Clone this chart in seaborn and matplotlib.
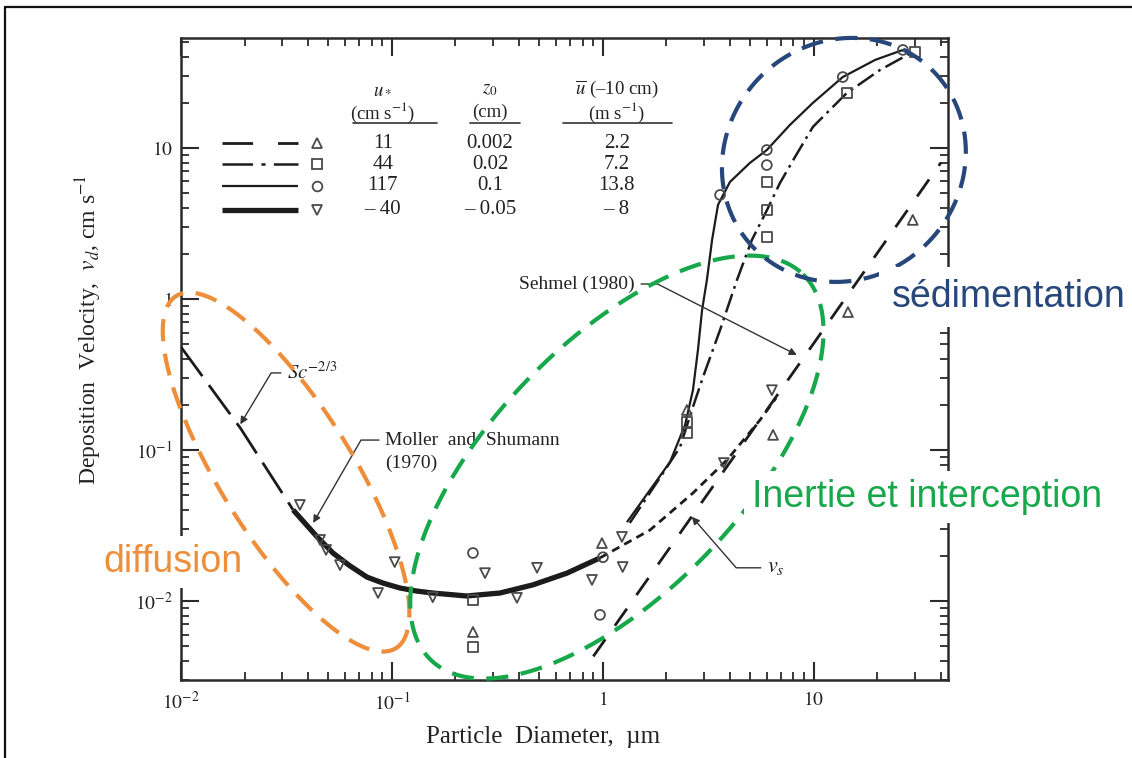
import numpy as np
import matplotlib
matplotlib.use("Agg")
import matplotlib.pyplot as plt
import seaborn as sns
from matplotlib.lines import Line2D
from matplotlib.ticker import LogLocator, FixedLocator, FuncFormatter, NullFormatter

# ---------------------------------------------------------------- data
# Sc^-2/3 diffusion branch (long dashes)
sc_d = [0.010, 0.0191, 0.034]
sc_v = [0.481, 0.140, 0.0401]

# Moller and Shumann (1970), thick solid curve
ms_d = [0.034, 0.0442, 0.0525, 0.0632, 0.0762, 0.0906, 0.109, 0.131, 0.156, 0.226,
        0.325, 0.466, 0.675, 0.968]
ms_v = [0.0401, 0.0266, 0.0208, 0.0171, 0.0144, 0.01315, 0.0122, 0.01164, 0.0113,
        0.0108, 0.0113, 0.0128, 0.0153, 0.0193]

# its short-dashed continuation above 1 um
ms_ext_d = [0.968, 1.67, 2.67, 3.87, 5.55, 6.61]
ms_ext_v = [0.0193, 0.0295, 0.0519, 0.0859, 0.158, 0.221]

# Sehmel (1980), u* = 117 cm/s (thin solid)
s117_d = [1.30, 1.67, 2.08, 2.45, 2.67, 2.82, 2.95, 3.11, 3.29, 3.51, 4.00, 4.97,
          5.98, 7.69, 9.89, 13.7, 19.5, 26.4]
s117_v = [0.0333, 0.0543, 0.0834, 0.1466, 0.249, 0.459, 0.845, 1.34, 2.46, 4.20,
          5.96, 7.96, 9.70, 14.2, 19.9, 29.5, 38.3, 44.6]

# Sehmel (1980), u* = 44 cm/s (dash-dot)
s44_d = [1.34, 1.86, 2.32, 2.64, 2.98, 3.59, 4.32, 5.08, 5.99, 6.90, 8.13, 9.89,
         14.3, 20.6, 29.4]
s44_v = [0.0329, 0.0653, 0.1047, 0.184, 0.304, 0.624, 1.34, 2.46, 3.88, 5.86,
         8.71, 13.8, 23.1, 32.9, 43.2]

# gravitational settling velocity v_s
vs_d = [0.90, 40.0]
vs_v = [0.0043, 8.0]

# measured points
tri_up_d = [0.242, 0.989, 2.50, 6.40, 14.5, 29.4]
tri_up_v = [0.00624, 0.0242, 0.184, 0.126, 0.820, 3.34]
square_d = [0.242, 0.242, 2.50, 2.50, 5.98, 5.98, 5.98, 14.3, 30.1]
square_v = [0.0102, 0.00496, 0.153, 0.130, 5.96, 3.88, 2.58, 23.1, 43.2]
circle_d = [0.242, 1.00, 0.968, 3.59, 5.98, 5.98, 13.7, 26.4]
circle_v = [0.0208, 0.0195, 0.0081, 4.89, 9.70, 7.71, 29.5, 44.6]
tri_dn_d = [0.0366, 0.0456, 0.0487, 0.0567, 0.103, 0.0859, 0.156, 0.276, 0.487,
            0.391, 0.887, 1.23, 1.24, 3.74, 6.32]
tri_dn_v = [0.0433, 0.0254, 0.0218, 0.0173, 0.0181, 0.0113, 0.0106, 0.0153, 0.0166,
            0.0105, 0.0138, 0.0266, 0.0168, 0.082, 0.249]

# key table
u_star = ["11", "44", "117", "\u2013 40"]
z0_cm = ["0.002", "0.02", "0.1", "\u2013 0.05"]
u_bar = ["2.2", "7.2", "13.8", "\u2013 8"]

# highlighted regions: centre and two semi-axis vectors in decades (log10 d, log10 v)
regions = {
    "diffusion": dict(c=(-1.502, -1.146), a=(0.521, -1.166), b=(0.265, 0.232), color="#EE8E3A"),
    "inertia": dict(c=(0.066, -1.113), a=(0.882, 1.277), b=(0.426, -0.575), color="#17A84B"),
    "settling": dict(c=(1.142, 0.921), a=(0.422, 0.590), b=(0.395, -0.552), color="#27477B"),
}

# ---------------------------------------------------------------- style
sns.set_theme(style="ticks")
plt.rcParams.update({
    "font.family": ["Liberation Serif", "DejaVu Serif"],
    "mathtext.fontset": "stix",
    "lines.scale_dashes": False,
    "axes.linewidth": 1.8,
    "axes.edgecolor": "#2b2b2b",
    "xtick.direction": "in", "ytick.direction": "in",
    "xtick.top": True, "ytick.right": True,
    "xtick.major.size": 13, "ytick.major.size": 13,
    "xtick.minor.size": 6, "ytick.minor.size": 6,
    "xtick.major.width": 1.5, "ytick.major.width": 1.5,
    "xtick.minor.width": 1.3, "ytick.minor.width": 1.3,
    "xtick.color": "#2b2b2b", "ytick.color": "#2b2b2b",
    "xtick.labelcolor": "#222222", "ytick.labelcolor": "#222222",
})

W, H = 1132, 758
fig = plt.figure(figsize=(W / 100, H / 100), dpi=100)
fig.patch.set_facecolor("white")
ax = fig.add_axes([181 / W, 78 / H, 767 / W, 642 / H])
ax.set_xscale("log")
ax.set_yscale("log")
ax.set_xlim(0.01, 43.2)
ax.set_ylim(0.0030, 53.5)

INK = "#1c1c1c"


def curve(x, y, lw, dashes=None, color=INK, z=3):
    sns.lineplot(x=x, y=y, ax=ax, color=color, linewidth=lw, sort=False,
                 estimator=None, zorder=z)
    line = ax.lines[-1]
    if dashes is not None:
        line.set_dashes(dashes)
    line.set_solid_capstyle("butt")
    line.set_dash_capstyle("butt")
    line.set_solid_joinstyle("round")
    return line


curve(sc_d, sc_v, 2.0, dashes=[26, 8])
curve(ms_d, ms_v, 3.8)
curve(ms_ext_d, ms_ext_v, 2.0, dashes=[6, 4])
curve(s117_d, s117_v, 1.6)
curve(s44_d, s44_v, 1.8, dashes=[14, 4, 2, 4])
curve(vs_d, vs_v, 2.0, dashes=[15, 12])

MK = "#4a4a4a"
for xs, ys, m in [(tri_up_d, tri_up_v, "^"), (square_d, square_v, "s"),
                  (circle_d, circle_v, "o"), (tri_dn_d, tri_dn_v, "v")]:
    sns.scatterplot(x=xs, y=ys, ax=ax, marker=m, s=50, facecolor="none",
                    edgecolor=MK, linewidth=1.3, zorder=4, legend=False)

# region outlines
t = np.linspace(0, 2 * np.pi, 400)
for reg in regions.values():
    lx = reg["c"][0] + reg["a"][0] * np.cos(t) + reg["b"][0] * np.sin(t)
    ly = reg["c"][1] + reg["a"][1] * np.cos(t) + reg["b"][1] * np.sin(t)
    sns.lineplot(x=10 ** lx, y=10 ** ly, ax=ax, sort=False, estimator=None,
                 color=reg["color"], linewidth=3.0, zorder=5, clip_on=False)
    ax.lines[-1].set_dashes([16, 9])

# ---------------------------------------------------------------- axes
ax.xaxis.set_major_locator(FixedLocator([0.01, 0.1, 1, 10]))
ax.yaxis.set_major_locator(FixedLocator([0.01, 0.1, 1, 10]))
ax.xaxis.set_minor_locator(LogLocator(base=10, subs=np.arange(2, 10), numticks=20))
ax.yaxis.set_minor_locator(LogLocator(base=10, subs=np.arange(2, 10), numticks=20))
ax.xaxis.set_minor_formatter(NullFormatter())
ax.yaxis.set_minor_formatter(NullFormatter())
lab = {0.01: r"$10^{-2}$", 0.1: r"$10^{-1}$", 1: r"$1$", 10: r"$10$"}
fmt = FuncFormatter(lambda v, p: lab.get(round(v, 4), ""))
ax.xaxis.set_major_formatter(fmt)
ax.yaxis.set_major_formatter(fmt)
ax.tick_params(axis="x", which="major", labelsize=14, pad=8)
ax.tick_params(axis="y", which="major", labelsize=14, pad=6)

ax.set_xlabel("Particle  Diameter,  \u00b5m", fontsize=18, color="#222222")
ax.xaxis.set_label_coords(0.472, -0.072)
ax.set_ylabel(r"Deposition  Velocity,  $v_d$, cm s$^{-1}$", fontsize=17,
              color="#222222", va="center")
ax.yaxis.set_label_coords(-0.120, 0.545)

# ---------------------------------------------------------------- key table
T = ax.transAxes
key_x0, key_x1, key_xm = 0.0535, 0.1525, 0.177
row_y = [0.8364, 0.8037, 0.7695, 0.7321]
col_x = [0.263, 0.403, 0.568]
key_styles = [
    dict(lw=2.0, dashes=[22, 18], marker="^"),
    dict(lw=1.8, dashes=[22, 6, 3, 6], marker="s"),
    dict(lw=1.6, dashes=None, marker="o"),
    dict(lw=3.8, dashes=None, marker="v"),
]
for y, st, a, b, c in zip(row_y, key_styles, u_star, z0_cm, u_bar):
    ln, = ax.plot([key_x0, key_x1], [y, y], transform=T, color=INK, lw=st["lw"],
                  solid_capstyle="butt", clip_on=False)
    if st["dashes"]:
        ln.set_dashes(st["dashes"])
    ax.plot([key_xm], [y], transform=T, marker=st["marker"], ms=7, mfc="none",
            mec=MK, mew=1.3, ls="none")
    for cx, s in zip(col_x, (a, b, c)):
        ax.text(cx, y, s, transform=T, ha="center", va="center", fontsize=15,
                color="#222222")

heads = [(r"$u_*$", r"(cm s$^{-1}$)", (0.224, 0.334)),
         (r"$z_0$", "(cm)", (0.377, 0.442)),
         (r"$\overline{u}$" + " (\u201310 cm)", r"(m s$^{-1}$)", (0.498, 0.640))]
for cx, (h1, h2, (u0, u1)) in zip(col_x, heads):
    ax.text(cx, 0.920, h1, transform=T, ha="center", va="center", fontsize=13.5,
            color="#222222")
    ax.text(cx, 0.884, h2, transform=T, ha="center", va="center", fontsize=13.5,
            color="#222222")
    ax.plot([u0, u1], [0.868, 0.868], transform=T, color="#333333", lw=1.2)

# ---------------------------------------------------------------- annotations
arrow = dict(arrowstyle="-|>", color="#333333", lw=1.0, mutation_scale=11,
             shrinkA=2, shrinkB=0)
ax.annotate(r"$Sc^{-2/3}$", xy=(0.0191, 0.148), xytext=(0.0318, 0.324),
            ha="left", va="center", fontsize=15, color="#222222",
            arrowprops=dict(arrow, relpos=(0, 0.5),
                            connectionstyle="angle,angleA=0,angleB=59,rad=0"))
ax.annotate("Moller  and  Shumann", xy=(0.0423, 0.0329), xytext=(0.0927, 0.1164),
            ha="left", va="center", fontsize=14, color="#222222",
            arrowprops=dict(arrow, relpos=(0, 0.5),
                            connectionstyle="angle,angleA=0,angleB=60,rad=0"))
ax.text(0.0927, 0.082, "(1970)", ha="left", va="center", fontsize=14, color="#222222")
ax.annotate("Sehmel (1980)", xy=(8.30, 0.426), xytext=(1.42, 1.257),
            ha="right", va="center", fontsize=14, color="#222222",
            arrowprops=dict(arrow, relpos=(1, 0.5),
                            connectionstyle="angle,angleA=0,angleB=153,rad=0"))
ax.annotate(r"$v_s$", xy=(2.64, 0.0361), xytext=(5.98, 0.0166),
            ha="left", va="center", fontsize=16, color="#222222",
            arrowprops=dict(arrow, relpos=(0, 0.5),
                            connectionstyle="angle,angleA=0,angleB=-49,rad=0"))

# region names
box = dict(facecolor="white", edgecolor="none", pad=6)
ax.text(0.00427, 0.01556, "diffusion", fontsize=27, family="Liberation Sans",
        color=regions["diffusion"]["color"], ha="left", va="baseline",
        bbox=box, zorder=6)
ax.text(5.08, 0.0420, "Inertie et interception", fontsize=27, family="Liberation Sans",
        color=regions["inertia"]["color"], ha="left", va="baseline",
        bbox=box, zorder=6)
ax.text(23.4, 0.886, "s\u00e9dimentation", fontsize=27, family="Liberation Sans",
        color=regions["settling"]["color"], ha="left", va="baseline",
        bbox=dict(box, pad=9), zorder=6)

# frame lines of the panel
fig.add_artist(Line2D([5 / W, 1], [1 - 7 / H, 1 - 7 / H], transform=fig.transFigure,
                      color="#111111", lw=1.6))
fig.add_artist(Line2D([5 / W, 5 / W], [0, 1 - 7 / H], transform=fig.transFigure,
                      color="#111111", lw=1.6))

fig.savefig("out.png", dpi=100, facecolor="white")
